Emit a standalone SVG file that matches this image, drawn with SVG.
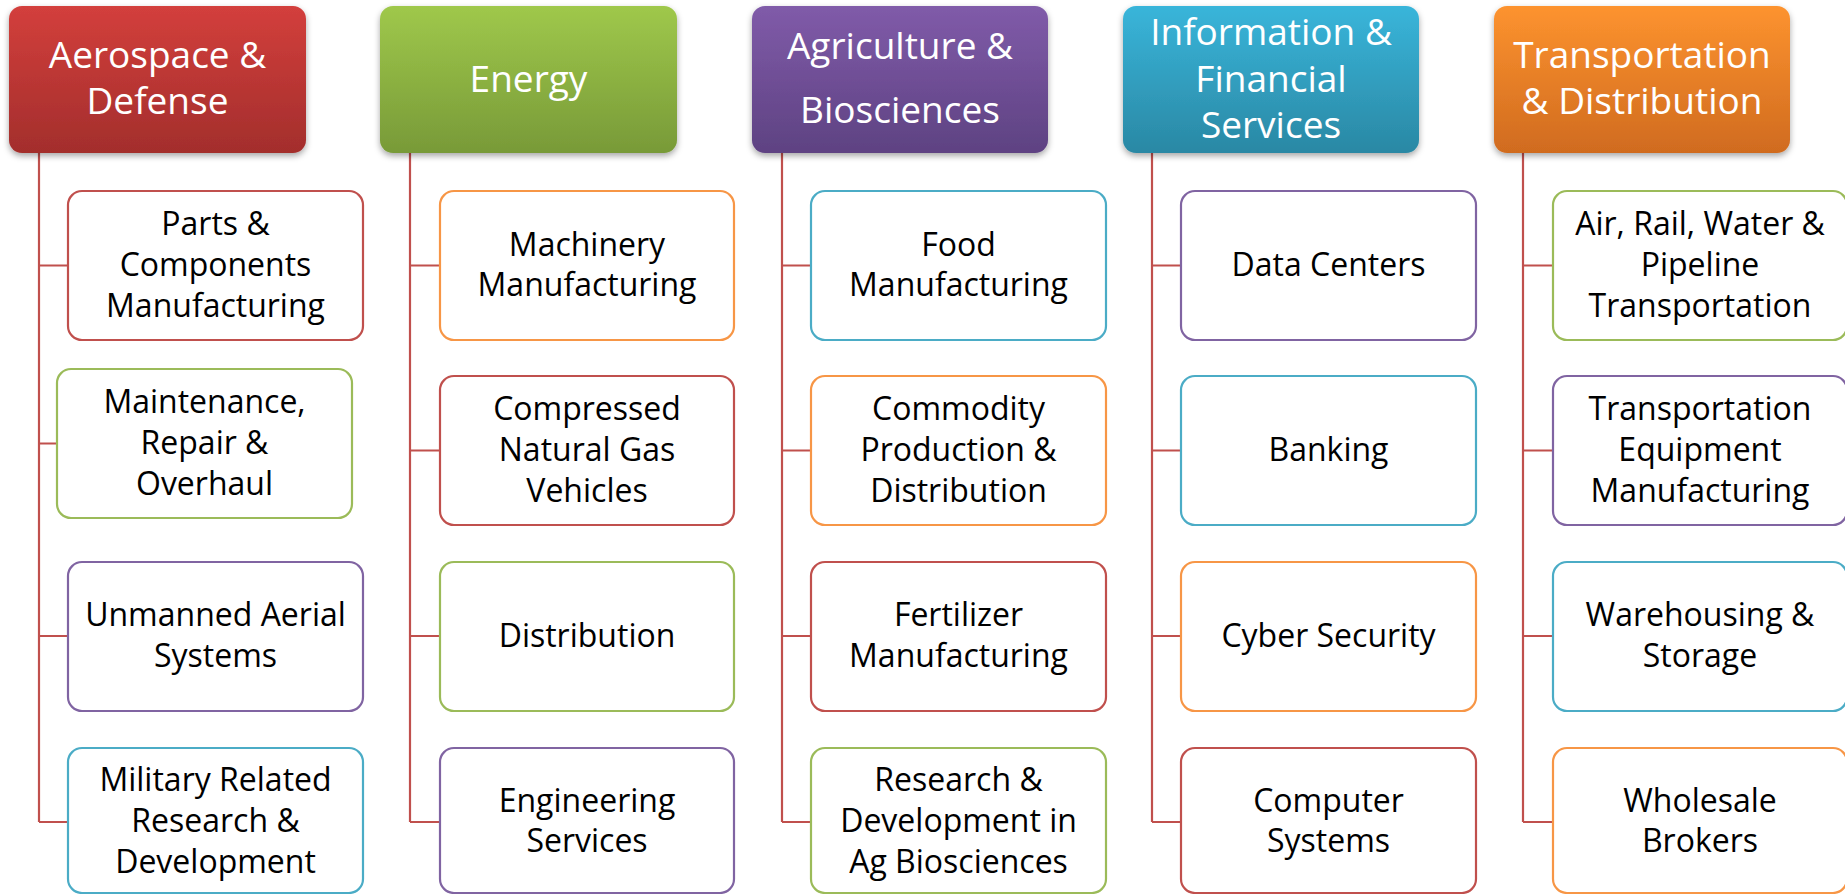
<svg xmlns="http://www.w3.org/2000/svg" width="1845" height="894" viewBox="0 0 1845 894">
<defs>
<linearGradient id="gRed" x1="0" y1="0" x2="0" y2="1"><stop offset="0" stop-color="#d33f3c"/><stop offset="1" stop-color="#a32e2c"/></linearGradient>
<linearGradient id="gGreen" x1="0" y1="0" x2="0" y2="1"><stop offset="0" stop-color="#9fc84b"/><stop offset="1" stop-color="#789a38"/></linearGradient>
<linearGradient id="gPurple" x1="0" y1="0" x2="0" y2="1"><stop offset="0" stop-color="#805ba9"/><stop offset="1" stop-color="#5e4282"/></linearGradient>
<linearGradient id="gCyan" x1="0" y1="0" x2="0" y2="1"><stop offset="0" stop-color="#39b5da"/><stop offset="1" stop-color="#2a88a4"/></linearGradient>
<linearGradient id="gOrange" x1="0" y1="0" x2="0" y2="1"><stop offset="0" stop-color="#fd932f"/><stop offset="1" stop-color="#d06b1f"/></linearGradient>
<filter id="sh" x="-10%" y="-10%" width="120%" height="130%"><feDropShadow dx="0" dy="3" stdDeviation="3" flood-color="#000" flood-opacity="0.35"/></filter>
</defs>
<style>
.hdr{filter:url(#sh)}
.ht{font-family:"Open Sans","Liberation Sans",sans-serif;font-size:37px;fill:#fff;text-anchor:middle}
.box{fill:#fff;stroke-width:2.2}
.bt{font-family:"Open Sans","Liberation Sans",sans-serif;font-size:32px;fill:#000;text-anchor:middle}
.r{stroke:#c0504d}.g{stroke:#9bbb59}.p{stroke:#8064a2}.c{stroke:#4bacc6}.o{stroke:#f79646}
.conn{fill:none;stroke:#c0504d;stroke-width:2.2}
</style>
<rect width="1845" height="894" fill="#fff"/>

<g id="connectors">
<path class="conn" d="M39,153V822M39,265.5H68M39,443.5H57M39,636H68M39,822H68"/>
<path class="conn" d="M410,153V822M410,265.5H440M410,450.5H440M410,636H440M410,822H440"/>
<path class="conn" d="M782,153V822M782,265.5H811M782,450.5H811M782,636H811M782,822H811"/>
<path class="conn" d="M1152,153V822M1152,265.5H1181M1152,450.5H1181M1152,636H1181M1152,822H1181"/>
<path class="conn" d="M1523,153V822M1523,265.5H1553M1523,450.5H1553M1523,636H1553M1523,822H1553"/>
</g>

<g id="h-aerospace"><rect class="hdr" x="9" y="6" width="297" height="147" rx="13" fill="url(#gRed)"/><text class="ht" x="157.5" y="68">Aerospace &amp;</text><text class="ht" x="157.5" y="114">Defense</text></g>
<g id="h-energy"><rect class="hdr" x="380" y="6" width="297" height="147" rx="13" fill="url(#gGreen)"/><text class="ht" x="528.5" y="92">Energy</text></g>
<g id="h-agri"><rect class="hdr" x="752" y="6" width="296" height="147" rx="13" fill="url(#gPurple)"/><text class="ht" x="900" y="59">Agriculture &amp;</text><text class="ht" x="900" y="123">Biosciences</text></g>
<g id="h-info"><rect class="hdr" x="1123" y="6" width="296" height="147" rx="13" fill="url(#gCyan)"/><text class="ht" x="1271" y="45">Information &amp;</text><text class="ht" x="1271" y="92">Financial</text><text class="ht" x="1271" y="138">Services</text></g>
<g id="h-transport"><rect class="hdr" x="1494" y="6" width="296" height="147" rx="13" fill="url(#gOrange)"/><text class="ht" x="1642" y="68">Transportation</text><text class="ht" x="1642" y="114">&amp; Distribution</text></g>

<g id="n-parts"><rect class="box r" x="68" y="191" width="295" height="149" rx="14"/><text class="bt" x="215.5" y="235">Parts &amp;</text><text class="bt" x="215.5" y="276">Components</text><text class="bt" x="215.5" y="317">Manufacturing</text></g>
<g id="n-mro"><rect class="box g" x="57" y="369" width="295" height="149" rx="14"/><text class="bt" x="204.5" y="413">Maintenance,</text><text class="bt" x="204.5" y="454">Repair &amp;</text><text class="bt" x="204.5" y="495">Overhaul</text></g>
<g id="n-uas"><rect class="box p" x="68" y="562" width="295" height="149" rx="14"/><text class="bt" x="215.5" y="626">Unmanned Aerial</text><text class="bt" x="215.5" y="667">Systems</text></g>
<g id="n-military"><rect class="box c" x="68" y="748" width="295" height="145" rx="14"/><text class="bt" x="215.5" y="791">Military Related</text><text class="bt" x="215.5" y="832">Research &amp;</text><text class="bt" x="215.5" y="873">Development</text></g>

<g id="n-machinery"><rect class="box o" x="440" y="191" width="294" height="149" rx="14"/><text class="bt" x="587" y="256">Machinery</text><text class="bt" x="587" y="296">Manufacturing</text></g>
<g id="n-cng"><rect class="box r" x="440" y="376" width="294" height="149" rx="14"/><text class="bt" x="587" y="420">Compressed</text><text class="bt" x="587" y="461">Natural Gas</text><text class="bt" x="587" y="502">Vehicles</text></g>
<g id="n-distribution"><rect class="box g" x="440" y="562" width="294" height="149" rx="14"/><text class="bt" x="587" y="647">Distribution</text></g>
<g id="n-engineering"><rect class="box p" x="440" y="748" width="294" height="145" rx="14"/><text class="bt" x="587" y="812">Engineering</text><text class="bt" x="587" y="852">Services</text></g>

<g id="n-food"><rect class="box c" x="811" y="191" width="295" height="149" rx="14"/><text class="bt" x="958.5" y="256">Food</text><text class="bt" x="958.5" y="296">Manufacturing</text></g>
<g id="n-commodity"><rect class="box o" x="811" y="376" width="295" height="149" rx="14"/><text class="bt" x="958.5" y="420">Commodity</text><text class="bt" x="958.5" y="461">Production &amp;</text><text class="bt" x="958.5" y="502">Distribution</text></g>
<g id="n-fertilizer"><rect class="box r" x="811" y="562" width="295" height="149" rx="14"/><text class="bt" x="958.5" y="626">Fertilizer</text><text class="bt" x="958.5" y="667">Manufacturing</text></g>
<g id="n-research"><rect class="box g" x="811" y="748" width="295" height="145" rx="14"/><text class="bt" x="958.5" y="791">Research &amp;</text><text class="bt" x="958.5" y="832">Development in</text><text class="bt" x="958.5" y="873">Ag Biosciences</text></g>

<g id="n-datacenters"><rect class="box p" x="1181" y="191" width="295" height="149" rx="14"/><text class="bt" x="1328.5" y="276">Data Centers</text></g>
<g id="n-banking"><rect class="box c" x="1181" y="376" width="295" height="149" rx="14"/><text class="bt" x="1328.5" y="461">Banking</text></g>
<g id="n-cyber"><rect class="box o" x="1181" y="562" width="295" height="149" rx="14"/><text class="bt" x="1328.5" y="647">Cyber Security</text></g>
<g id="n-computer"><rect class="box r" x="1181" y="748" width="295" height="145" rx="14"/><text class="bt" x="1328.5" y="812">Computer</text><text class="bt" x="1328.5" y="852">Systems</text></g>

<g id="n-air"><rect class="box g" x="1553" y="191" width="294" height="149" rx="14"/><text class="bt" x="1700" y="235">Air, Rail, Water &amp;</text><text class="bt" x="1700" y="276">Pipeline</text><text class="bt" x="1700" y="317">Transportation</text></g>
<g id="n-equipment"><rect class="box p" x="1553" y="376" width="294" height="149" rx="14"/><text class="bt" x="1700" y="420">Transportation</text><text class="bt" x="1700" y="461">Equipment</text><text class="bt" x="1700" y="502">Manufacturing</text></g>
<g id="n-warehousing"><rect class="box c" x="1553" y="562" width="294" height="149" rx="14"/><text class="bt" x="1700" y="626">Warehousing &amp;</text><text class="bt" x="1700" y="667">Storage</text></g>
<g id="n-wholesale"><rect class="box o" x="1553" y="748" width="294" height="145" rx="14"/><text class="bt" x="1700" y="812">Wholesale</text><text class="bt" x="1700" y="852">Brokers</text></g>
</svg>
